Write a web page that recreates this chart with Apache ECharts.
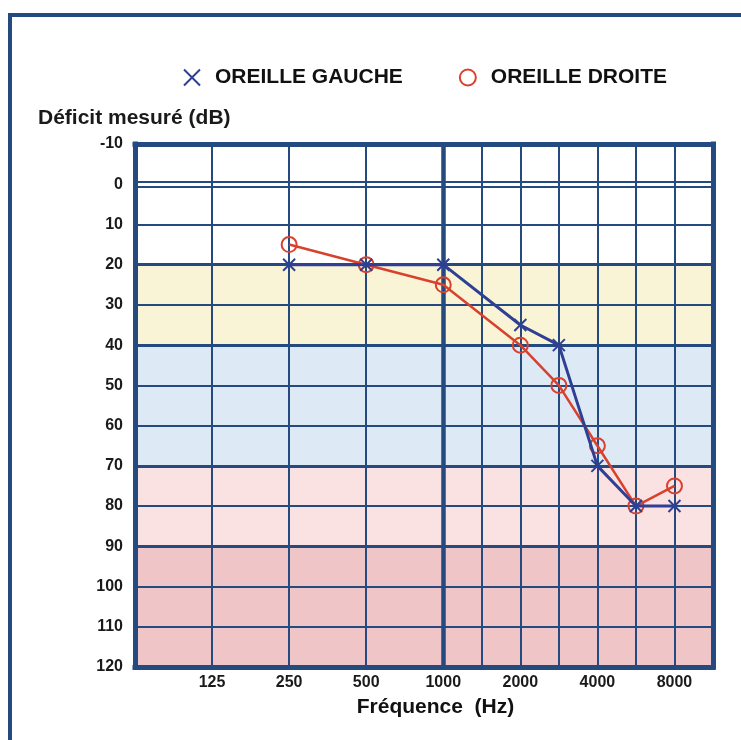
<!DOCTYPE html>
<html>
<head>
<meta charset="utf-8">
<script src="https://cdn.jsdelivr.net/npm/echarts@6/dist/echarts.min.js"></script>
<style>
html,body{margin:0;padding:0;background:#fff;}
#chart{width:741px;height:740px;}
</style>
</head>
<body>
<div id="chart"></div>
<script>
// ---- data ----
const categories = ['62.5','88','125','177','250','354','500','707','1000','1500','2000','3000','4000','6000','8000','12000'];
const xTickLabels = ['125','250','500','1000','2000','4000','8000'];
const frequencies = ['250','500','1000','2000','3000','4000','6000','8000'];
const oreilleGauche = [20, 20, 20, 35, 40, 70, 80, 80];
const oreilleDroite = [15, 20, 25, 40, 50, 65, 80, 75];
const yTicks = [-10, 0, 10, 20, 30, 40, 50, 60, 70, 80, 90, 100, 110, 120];
const verticalGrid = ['125','250','500','1500','2000','3000','4000','6000','8000'];
const bandLimits = [20, 40, 70, 90, 120];

const NAVY = '#244a80';
const BLUE = '#2f3f94';
const RED = '#d8412d';
const FONT = 'Liberation Sans, Arial, sans-serif';
const bandColors = ['#faf4d6', '#dde9f5', '#fae2e2', '#f0c5c8'];

const chart = echarts.init(document.getElementById('chart'));

const noSym = { symbol: ['none', 'none'], label: { show: false }, silent: true, animation: false };
const ls = (w, extra) => Object.assign({ width: w, color: NAVY, type: 'solid', opacity: 1 }, extra || {});

const thinLines = [];
yTicks.forEach(v => { if (v !== 0 && bandLimits.indexOf(v) < 0 && v !== yTicks[0] && v !== yTicks[yTicks.length-1]) thinLines.push({ yAxis: v, lineStyle: ls(2) }); });
verticalGrid.forEach(f => thinLines.push({ xAxis: f, lineStyle: ls(2) }));
const thickLines = [];
bandLimits.slice(0, -1).forEach(v => thickLines.push({ yAxis: v, lineStyle: ls(3) }));
thickLines.push({ yAxis: -0.55, lineStyle: ls(2) });
thickLines.push({ yAxis: 0.55, lineStyle: ls(2) });
thickLines.push({ xAxis: '1000', lineStyle: ls(4.5) });
thickLines.push({ yAxis: yTicks[0], lineStyle: ls(5, { cap: 'square' }) });
thickLines.push({ yAxis: yTicks[yTicks.length-1], lineStyle: ls(5, { cap: 'square' }) });
thickLines.push({ xAxis: categories[0], lineStyle: ls(5, { cap: 'square' }) });
thickLines.push({ xAxis: categories[categories.length-1], lineStyle: ls(5, { cap: 'square' }) });

const bandAreas = [];
for (let i = 0; i < bandLimits.length - 1; i++) {
  bandAreas.push([{ yAxis: bandLimits[i], itemStyle: { color: bandColors[i] } }, { yAxis: bandLimits[i+1] }]);
}

const xPath = 'path://M0,0L10,10M10,0L0,10';

chart.setOption({
  backgroundColor: '#ffffff',
  animation: false,
  title: {
    text: 'Déficit mesuré (dB)',
    left: 33, top: 103,
    textStyle: { fontFamily: FONT, fontSize: 21, fontWeight: 'bold', color: '#1a1a1a' }
  },
  legend: {
    left: 178, top: 62,
    itemWidth: 16, itemHeight: 16, itemGap: 56,
    textStyle: { fontFamily: FONT, fontSize: 21, fontWeight: 'bold', color: '#111', padding: [0, 0, 0, 10] },
    data: [
      { name: 'OREILLE GAUCHE', icon: xPath, itemStyle: { color: 'rgba(0,0,0,0)', borderColor: BLUE, borderWidth: 2 } },
      { name: 'OREILLE DROITE', icon: 'circle', itemStyle: { color: 'rgba(0,0,0,0)', borderColor: RED, borderWidth: 2 } }
    ]
  },
  graphic: [{
    type: 'rect', silent: true, z: 100,
    shape: { x: 10, y: 15, width: 900, height: 900 },
    style: { fill: 'none', stroke: NAVY, lineWidth: 4 }
  }],
  grid: { left: 135, right: 28, top: 144, bottom: 73 },
  xAxis: {
    type: 'category', data: categories, boundaryGap: false,
    axisLine: { show: false }, axisTick: { show: false }, splitLine: { show: false },
    axisLabel: {
      interval: 0, margin: 8,
      formatter: v => xTickLabels.indexOf(v) >= 0 ? v : '',
      fontFamily: FONT, fontSize: 16, fontWeight: 'bold', color: '#1a1a1a'
    },
    name: 'Fréquence  (Hz)', nameLocation: 'middle', nameGap: 30,
    nameTextStyle: { fontFamily: FONT, fontSize: 21, fontWeight: 'bold', color: '#111', padding: [0, 0, 0, 23] }
  },
  yAxis: {
    type: 'value', inverse: true, min: -10, max: 120, interval: 10,
    axisLine: { show: false }, axisTick: { show: false }, splitLine: { show: false },
    axisLabel: { margin: 12, fontFamily: FONT, fontSize: 16, fontWeight: 'bold', color: '#1a1a1a' }
  },
  series: [
    {
      name: 'bands', type: 'line', data: [], z: 0, silent: true,
      markArea: { silent: true, animation: false, data: bandAreas }
    },
    {
      name: 'grid', type: 'line', data: [], z: 3, silent: true,
      markLine: Object.assign({}, noSym, { data: thinLines.concat(thickLines) })
    },
    {
      name: 'OREILLE DROITE', type: 'line', z: 5,
      data: frequencies.map((f, i) => [f, oreilleDroite[i]]),
      symbol: 'circle', symbolSize: 15,
      itemStyle: { color: 'rgba(0,0,0,0)', borderColor: RED, borderWidth: 2 },
      lineStyle: { color: RED, width: 2.5 }
    },
    {
      name: 'OREILLE GAUCHE', type: 'line', z: 6,
      data: frequencies.map((f, i) => [f, oreilleGauche[i]]),
      symbol: xPath, symbolSize: 12,
      itemStyle: { color: BLUE, borderColor: BLUE, borderWidth: 2 },
      lineStyle: { color: BLUE, width: 3 }
    }
  ]
});
</script>
</body>
</html>
